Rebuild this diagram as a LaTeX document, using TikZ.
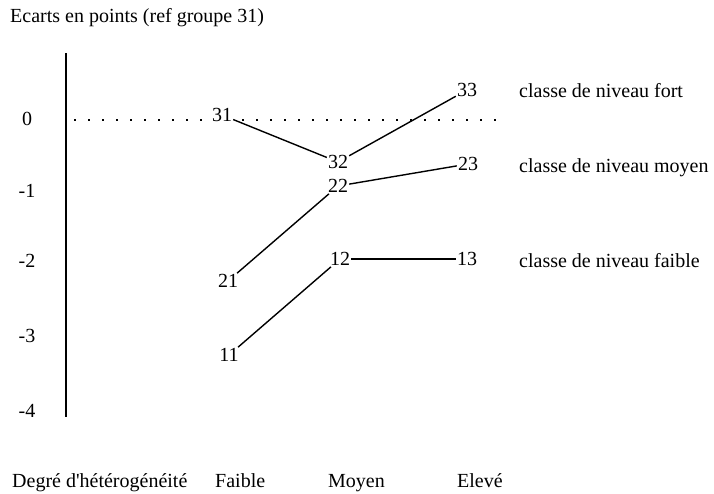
\documentclass[tikz,border=0pt]{standalone}
\usepackage{fontspec}
\setmainfont{Liberation Serif}
\usepackage{tikz}
\usetikzlibrary{positioning}
\tikzstyle{point} = [inner sep=1pt, fill=white, font=\fontsize{20}{24}\selectfont]
\tikzstyle{txt} = [inner sep=0pt, anchor=base west, font=\fontsize{20}{24}\selectfont]
\tikzstyle{yval} = [inner sep=0pt, anchor=base, font=\fontsize{20}{24}\selectfont]
\tikzstyle{link} = [draw, line width=1.4pt]
\tikzstyle{zeroline} = [draw, line width=1.5pt, dash pattern=on 1.5pt off 12.5pt]

\begin{document}
\begin{tikzpicture}[x=1pt, y=-1pt]
    \useasboundingbox (0,0) rectangle (714,493);
    % We start by placing the axis and its values
    \node [txt] (title) at (10,22) {Ecarts en points (ref groupe 31)};
    \coordinate (axtop) at (66,53);
    \coordinate (axbot) at (66,417);
    \draw [line width=1.4pt] (axtop) -- (axbot);
    \node [yval] (y0) at (27,125) {0};
    \node [yval] (y1) at (27,197) {-1};
    \node [yval] (y2) at (27,267) {-2};
    \node [yval] (y3) at (27,342) {-3};
    \node [yval] (y4) at (27,417) {-4};

    % The reference line of group 31
    \coordinate (dotstart) at (74,120);
    \coordinate (dotend) at (500,120);
    \draw [zeroline] (dotstart) -- (dotend);

    % Then the groups
    \node [point] (g31) at (222,115) {31};
    \node [point] (g32) at (338,162) {32};
    \node [point] (g33) at (467,90) {33};
    \node [point] (g21) at (228,281) {21};
    \node [point] (g22) at (338,186) {22};
    \node [point] (g23) at (468,164) {23};
    \node [point] (g11) at (229,355) {11};
    \node [point] (g12) at (340,259) {12};
    \node [point] (g13) at (467,259) {13};

    \node [txt] (fort) at (519,97) {classe de niveau fort};
    \node [txt] (moyen) at (519,172) {classe de niveau moyen};
    \node [txt] (faible) at (519,267) {classe de niveau faible};

    \node [txt] (xname) at (12,487) {Degré d\textquotesingle hétérogénéité};
    \node [txt] (xlow) at (215,487) {Faible};
    \node [txt] (xmid) at (328,487) {Moyen};
    \node [txt] (xhigh) at (457,487) {Elevé};

    % Once the nodes are placed, connecting them is easy.
    \draw [link] (g31) -- (g32);
    \draw [link] (g32) -- (g33);
    \draw [link] (g21) -- (g22);
    \draw [link] (g22) -- (g23);
    \draw [link] (g11) -- (g12);
    \draw [link] (g12) -- (g13);
\end{tikzpicture}
\end{document}
